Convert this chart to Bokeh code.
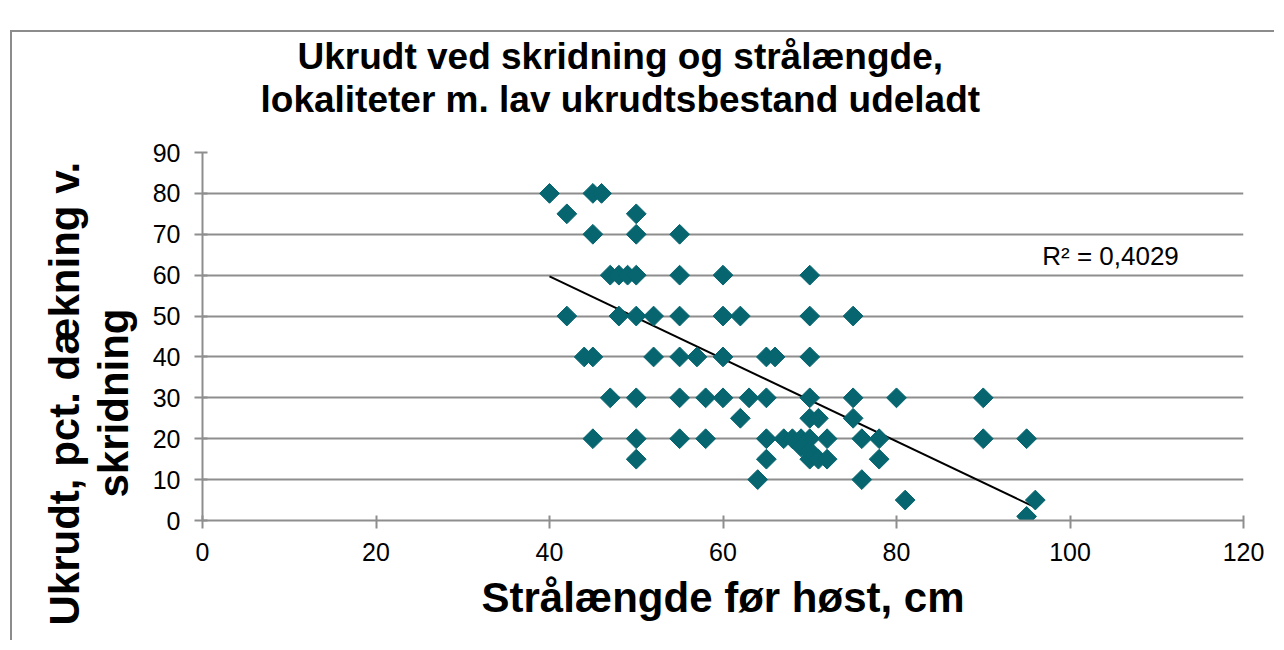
import numpy as np
from bokeh.plotting import figure
from bokeh.models import Label, Range1d, Title
from bokeh.embed import file_html
from bokeh.resources import INLINE

# ---- data ----
straalaengde = [40, 45, 46,
                42, 50,
                45, 50, 55,
                47, 48, 49, 50, 55, 60, 70,
                42, 48, 50, 52, 55, 60, 62, 70, 75,
                44, 45, 52, 55, 57, 60, 65, 66, 70,
                47, 50, 55, 58, 60, 63, 65, 70, 75, 80, 90,
                62, 70, 71, 75,
                45, 50, 55, 58, 65, 67, 68, 69, 70, 72, 76, 78, 90, 95,
                69, 70,
                50, 65, 70, 71, 72, 78,
                64, 76,
                81, 96,
                95]
ukrudt = [80, 80, 80,
          75, 75,
          70, 70, 70,
          60, 60, 60, 60, 60, 60, 60,
          50, 50, 50, 50, 50, 50, 50, 50, 50,
          40, 40, 40, 40, 40, 40, 40, 40, 40,
          30, 30, 30, 30, 30, 30, 30, 30, 30, 30, 30,
          25, 25, 25, 25,
          20, 20, 20, 20, 20, 20, 20, 20, 20, 20, 20, 20, 20, 20,
          18, 17,
          15, 15, 15, 15, 15, 15,
          10, 10,
          5, 5,
          1]
trend_x = [40, 96]
trend_y = [59.7, 3.2]
x_ticks = [0, 20, 40, 60, 80, 100, 120]
y_ticks = [0, 10, 20, 30, 40, 50, 60, 70, 80, 90]
title_lines = ["Ukrudt ved skridning og strålængde,",
               "lokaliteter m. lav ukrudtsbestand udeladt"]
y_title_lines = ["Ukrudt, pct. dækning v.", "skridning"]
x_title = "Strålængde før høst, cm"
r2_text = "R² = 0,4029"

TEAL = "#06656f"
GRID = "#8e8e8e"
FONT = "Liberation Sans"

p = figure(width=1264, height=610, output_backend="svg", toolbar_location=None,
           title=None,
           x_range=Range1d(0, 120), y_range=Range1d(0, 90),
           min_border_left=190, min_border_right=33,
           min_border_top=120, min_border_bottom=122)
p.margin = (30, 0, 0, 10)
p.styles = {"border-top": "2px solid #8c8c8c", "border-left": "2px solid #8c8c8c"}
p.outline_line_color = None
p.background_fill_color = "white"
p.border_fill_color = "white"

p.xgrid.grid_line_color = None
p.ygrid.grid_line_color = GRID
p.ygrid.grid_line_width = 2
p.ygrid.ticker = y_ticks

for ax in (p.xaxis, p.yaxis):
    ax.axis_line_color = GRID
    ax.axis_line_width = 2
    ax.major_tick_line_color = GRID
    ax.major_tick_line_width = 2
    ax.major_tick_in = 5
    ax.major_tick_out = 8
    ax.minor_tick_line_color = None
    ax.major_label_text_font = FONT
    ax.major_label_text_font_size = "25px"
    ax.major_label_text_color = "black"
    ax.major_label_standoff = 14
p.xaxis.ticker = x_ticks
p.yaxis.ticker = y_ticks

p.line(trend_x, trend_y, line_color="black", line_width=2)
p.scatter(x=straalaengde, y=ukrudt, marker="square", angle=np.pi / 4, size=14,
          fill_color=TEAL, line_color=TEAL)


def spacer(gap):
    return Title(text=" ", text_font_size="1px", standoff=gap)


def bold_title(text, size, align="center", offset=0, standoff=0):
    return Title(text=text, align=align, offset=offset, standoff=standoff,
                 text_font=FONT, text_font_style="bold", text_font_size=size,
                 text_color="black")


# chart title (two lines, above the frame)
p.add_layout(spacer(30), "above")
p.add_layout(bold_title(title_lines[1], "37px", align="left", offset=58), "above")
p.add_layout(bold_title(title_lines[0], "37px", align="left", offset=95), "above")

# y-axis title (two lines, left of the axis)
p.add_layout(spacer(10), "left")
p.add_layout(bold_title(y_title_lines[1], "42px", align="left", offset=23), "left")
p.add_layout(bold_title(y_title_lines[0], "42px", align="left", offset=-105), "left")

# x-axis title
p.add_layout(bold_title(x_title, "42px", align="center", standoff=17), "below")

p.add_layout(Label(x=96.8, y=64.8, text=r2_text, text_align="left",
                   text_baseline="middle", text_font=FONT,
                   text_font_size="26px", text_color="black"))

open("out.html", "w").write(file_html(p, INLINE))
